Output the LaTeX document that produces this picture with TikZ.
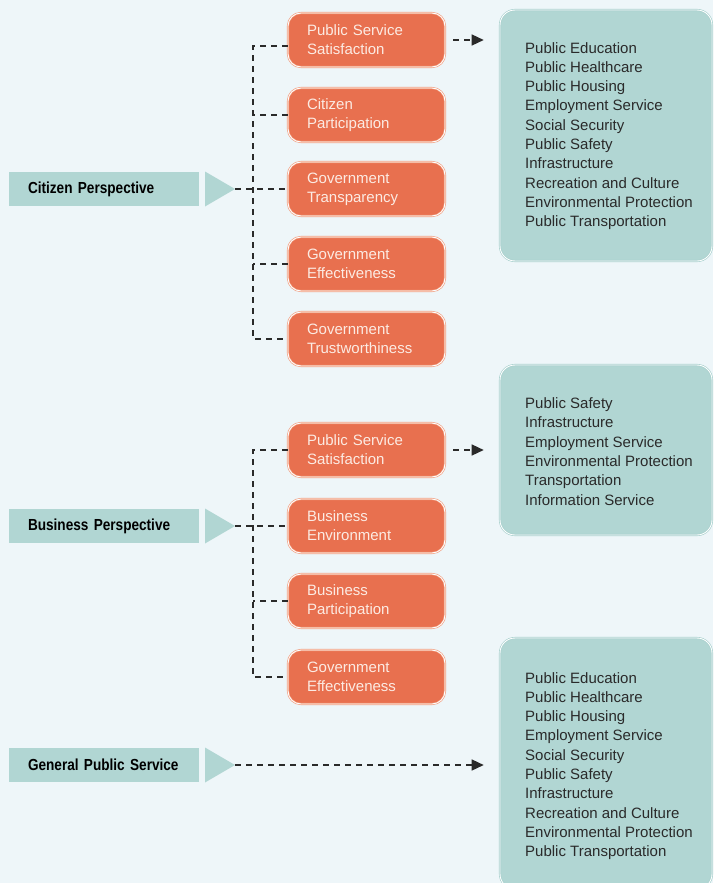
\documentclass[tikz,border=0pt]{standalone}
\usepackage{fontspec}
\setmainfont{Liberation Sans}
\newfontfamily\headfont{Liberation Sans}[FakeStretch=0.85]
\usetikzlibrary{arrows.meta}
\definecolor{bgc}{HTML}{EEF6F9}
\definecolor{tealc}{HTML}{B1D6D3}
\definecolor{tealb}{HTML}{A6CFCC}
\definecolor{orc}{HTML}{E8704F}
\definecolor{orl}{HTML}{F0997A}
\definecolor{lnc}{HTML}{2A2A2A}
\definecolor{txc}{HTML}{2A2A2A}
\definecolor{otx}{HTML}{FCEBE3}
\begin{document}
\begin{tikzpicture}[x=1pt,y=-1pt,
  obox/.style={rounded corners=13pt, fill=orc, draw=orl, double=white, double distance=0.9pt, line width=0.6pt,
    text width=119pt, inner xsep=19pt, inner ysep=0pt, minimum height=54pt, align=left,
    font=\fontsize{15}{19}\selectfont, text=otx},
  lbox/.style={fill=tealc, text width=152pt, inner xsep=19pt, inner ysep=0pt, minimum height=34pt, align=left,
    font=\headfont\bfseries\fontsize{16}{19}\selectfont, text=black},
  tbox/.style={rounded corners=15pt, fill=tealc, draw=tealb, double=white, double distance=0.9pt, line width=0.6pt,
    minimum width=212pt, inner sep=0pt},
  ttext/.style={align=left, inner sep=0pt, anchor=west, text=txc, font=\fontsize{15}{19.3}\selectfont},
  tri/.style={fill=tealc},
  dl/.style={draw=lnc, line width=1.4pt, dash pattern=on 6pt off 5pt},
  arr/.style={dl, -{Triangle[length=12pt,width=11pt]}}
]
\useasboundingbox (0,0) rectangle (713,883);
\fill[bgc] (0,0) rectangle (713,883);
\clip (0,0) rectangle (713,883);

% right boxes
\node[tbox, minimum height=251pt] (tb1) at (606,135.5) {};
\node[ttext] (tt1) at (525,136) {Public Education\\Public Healthcare\\Public Housing\\Employment Service\\Social Security\\Public Safety\\Infrastructure\\Recreation and Culture\\Environmental Protection\\Public Transportation};
\node[tbox, minimum height=170pt] (tb2) at (606,450) {};
\node[ttext] (tt2) at (525,451.5) {Public Safety\\Infrastructure\\Employment Service\\Environmental Protection\\Transportation\\Information Service};
\node[tbox, minimum height=251pt] (tb3) at (606,763.5) {};
\node[ttext] (tt3) at (525,766) {Public Education\\Public Healthcare\\Public Housing\\Employment Service\\Social Security\\Public Safety\\Infrastructure\\Recreation and Culture\\Environmental Protection\\Public Transportation};

% left boxes
\node[lbox] (cp) at (104,189) {Citizen Perspective};
\node[lbox] (bp) at (104,526) {Business Perspective};
\node[lbox] (gp) at (104,765) {General Public Service};
\coordinate (ct) at (235,189);
\coordinate (bt) at (235,526);
\coordinate (gt) at (235,765);
\fill[tri] (205,171.5) -- (ct) -- (205,206.5) -- cycle;
\fill[tri] (205,508.5) -- (bt) -- (205,543.5) -- cycle;
\fill[tri] (205,747.5) -- (gt) -- (205,782.5) -- cycle;

% orange boxes
\node[obox] (c1) at (366.5,40) {Public Service\\Satisfaction};
\node[obox] (c2) at (366.5,115) {Citizen\\Participation};
\node[obox] (c3) at (366.5,189) {Government\\Transparency};
\node[obox] (c4) at (366.5,264) {Government\\Effectiveness};
\node[obox] (c5) at (366.5,339) {Government\\Trustworthiness};
\node[obox] (b1) at (366.5,450) {Public Service\\Satisfaction};
\node[obox] (b2) at (366.5,526) {Business\\Environment};
\node[obox] (b3) at (366.5,601) {Business\\Participation};
\node[obox] (b4) at (366.5,677) {Government\\Effectiveness};

% citizen connectors
\coordinate (cv) at (253,189);
\draw[dl] ([yshift=-6pt]c1.west) -| (cv |- c5.west) -- (c5.west);
\draw[dl] (c2.west) -- (c2.west -| cv);
\draw[dl] (c4.west) -- (c4.west -| cv);
\draw[dl] (ct) -- (c3.west);
\draw[arr] ([xshift=8pt]c1.east) -- ([xshift=-16pt]c1.east -| tb1.west);

% business connectors
\coordinate (bv) at (253,526);
\draw[dl] (b1.west) -| (bv |- b4.west) -- (b4.west);
\draw[dl] (b3.west) -- (b3.west -| bv);
\draw[dl] (bt) -- (b2.west);
\draw[arr] ([xshift=8pt]b1.east) -- ([xshift=-16pt]b1.east -| tb2.west);

% general public service
\draw[arr] (gt) -- ([xshift=-16pt]gt -| tb3.west);
\end{tikzpicture}
\end{document}
